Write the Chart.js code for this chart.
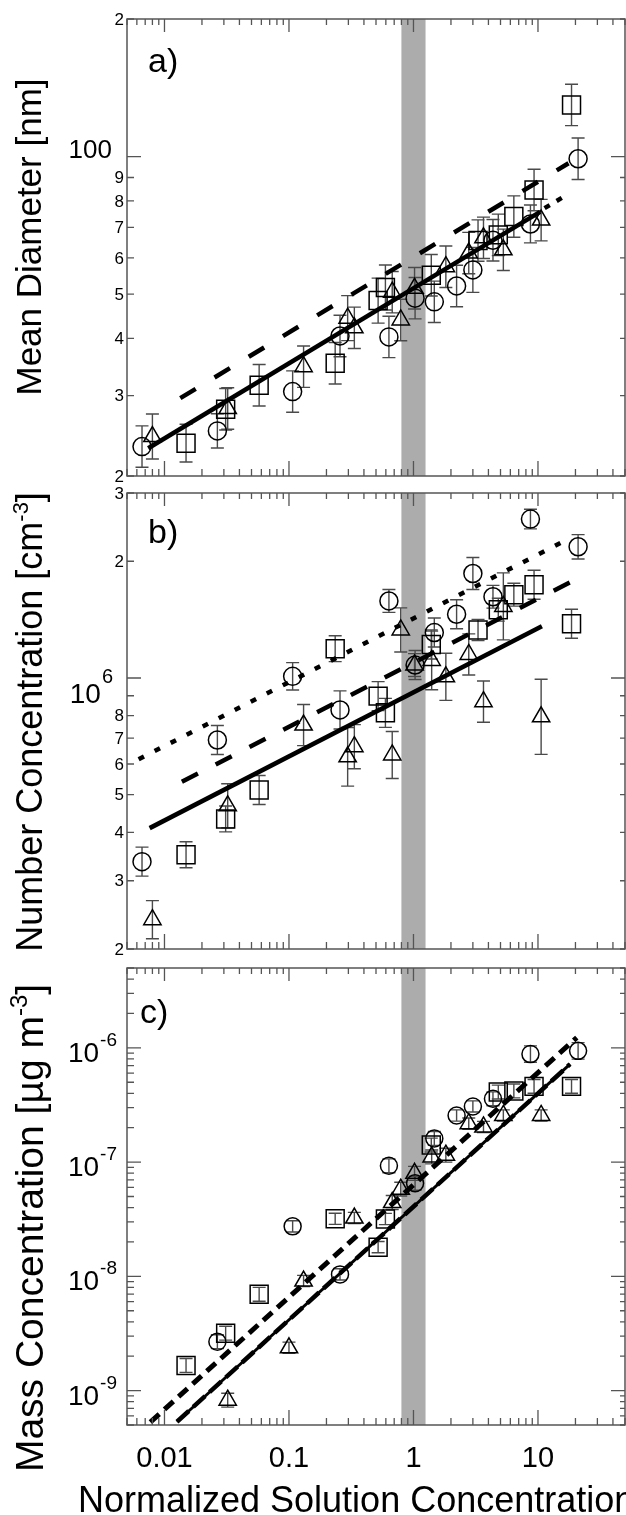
<!DOCTYPE html>
<html>
<head>
<meta charset="utf-8">
<script src="https://cdn.jsdelivr.net/npm/chart.js@4.4.1/dist/chart.umd.min.js"></script>
<style>
  body { margin: 0; background: #fff; }
  #wrap { position: relative; width: 626px; height: 1515px; overflow: hidden; }
  canvas { position: absolute; left: 0; }
</style>
</head>
<body>
<div id="wrap">
  <canvas id="panelA" width="626" height="490" style="top:0px"></canvas>
  <canvas id="panelB" width="626" height="476" style="top:484px"></canvas>
  <canvas id="panelC" width="626" height="555" style="top:960px"></canvas>
</div>
<script>
const FONT = '"Liberation Sans", Arial, Helvetica, sans-serif';

// shared x axis
const xRange = [0.005, 50];
const shadeRange = [0.8, 1.25];
const xTickVals = [0.01, 0.1, 1, 10];
const xTickText = ["0.01", "0.1", "1", "10"];

// x positions of the three sample sets (same in every panel)
const circleX   = [0.0066, 0.0266, 0.107, 0.257, 0.635, 1.03, 1.47, 2.22, 3.0, 4.35, 8.7, 21.0];
const squareX   = [0.0149, 0.031, 0.0576, 0.235, 0.52, 0.595, 1.39, 3.3, 4.8, 6.4, 9.3, 18.6];
const triangleX = [0.008, 0.0322, 0.1, 0.131, 0.296, 0.335, 0.675, 0.79, 1.02, 1.4, 1.82, 2.78, 3.65, 5.27, 10.6];

// a) mean diameter [nm]
const diamCircle      = [23.2, 25.1, 30.6, 40.5, 40.3, 49.0, 48.1, 52.1, 56.5, 65.6, 71.2, 98.9];
const diamCircleErr   = [1.11, 1.09, 1.11, 1.11, 1.11, 1.11, 1.11, 1.11, 1.12, 1.11, 1.10, 1.11];
const diamSquare      = [23.6, 28.0, 31.6, 35.3, 48.4, 51.7, 55.0, 65.5, 67.4, 73.9, 84.5, 129.7];
const diamSquareErr   = [1.10, 1.11, 1.11, 1.11, 1.12, 1.12, 1.11, 1.11, 1.11, 1.11, 1.11, 1.11];
const diamTriangle    = [24.4, 28.1, null, 34.7, 44.3, 42.2, 50.5, 43.9, 51.5, null, 57.4, 61.5, 66.4, 62.5, 72.6];
const diamTriangleErr = [1.12, 1.11, null, 1.11, 1.12, 1.11, 1.11, 1.11, 1.11, null, 1.11, 1.11, 1.11, 1.11, 1.11];
const diamFitX  = [0.0074, 10.4],  diamFitY  = [23.0, 75.7];
const diamDashX = [0.0134, 17.6],  diamDashY = [29.6, 96.7];
const diamDotX  = [11.3, 16.5],    diamDotY  = [77.1, 82.0];
const diamTickVals = [200, 100, 90, 80, 70, 60, 50, 40, 30, 20];
const diamTickText = ["2", "100", "9", "8", "7", "6", "5", "4", "3", "2"];

// b) number concentration [cm-3]
const numCircle      = [3.36e5, 6.92e5, 1.01e6, 8.27e5, 1.58e6, 1.08e6, 1.31e6, 1.46e6, 1.86e6, 1.62e6, 2.57e6, 2.18e6];
const numCircleErr   = [1.09, 1.09, 1.085, 1.12, 1.07, 1.09, 1.09, 1.09, 1.10, 1.07, 1.06, 1.075];
const numSquare      = [3.50e5, 4.33e5, 5.14e5, 1.19e6, 8.98e5, 8.13e5, 1.22e6, 1.33e6, 1.50e6, 1.64e6, 1.74e6, 1.38e6];
const numSquareErr   = [1.08, 1.08, 1.09, 1.08, 1.09, 1.09, 1.09, 1.065, 1.07, 1.07, 1.09, 1.09];
const numTriangle    = [2.38e5, 4.68e5, null, 7.56e5, 6.26e5, 6.65e5, 6.33e5, 1.33e6, 1.08e6, 1.11e6, 1.007e6, 1.15e6, 8.69e5, 1.53e6, 7.94e5];
const numTriangleErr = [1.12, 1.14, null, 1.13, 1.19, 1.14, 1.15, 1.14, 1.07, 1.19, 1.15, 1.13, 1.13, 1.22, 1.25];
const numFitX   = [0.0076, 10.75], numFitY   = [4.10e5, 1.36e6];
const numDashX  = [0.0138, 18.4],  numDashY  = [5.40e5, 1.77e6];
const numDotX   = [0.0062, 16.0],  numDotY   = [6.17e5, 2.25e6];
const numTickVals = [3e6, 2e6, 1e6, 8e5, 7e5, 6e5, 5e5, 4e5, 3e5, 2e5];
const numTickText = ["3", "2", "6", "8", "7", "6", "5", "4", "3", "2"];

// c) mass concentration [ug m-3]
const massCircle      = [null, 2.68e-9, 2.74e-8, 1.04e-8, 9.29e-8, 6.53e-8, 1.61e-7, 2.56e-7, 3.07e-7, 3.58e-7, 8.82e-7, 9.41e-7];
const massCircleErr   = [null, 1.15, 1.12, 1.12, 1.15, 1.15, 1.15, 1.12, 1.12, 1.15, 1.18, 1.18];
const massSquare      = [1.66e-9, 3.18e-9, 6.97e-9, 3.19e-8, 1.80e-8, 3.18e-8, 1.41e-7, null, 4.1e-7, 4.2e-7, 4.6e-7, 4.6e-7];
const massSquareErr   = [1.15, 1.15, 1.15, 1.12, 1.12, 1.12, 1.15, null, 1.15, 1.15, 1.15, 1.15];
const massTriangle    = [null, 8.24e-10, 2.37e-9, 9.1e-9, null, 3.24e-8, 4.43e-8, 5.8e-8, 7.98e-8, 1.11e-7, 1.15e-7, 2.17e-7, 2.03e-7, 2.56e-7, 2.56e-7];
const massTriangleErr = [null, 1.15, 1.12, 1.12, null, 1.12, 1.15, 1.15, 1.15, 1.15, 1.15, 1.12, 1.12, 1.12, 1.12];
const massFitX  = [0.0126, 18.1],  massFitY  = [5.34e-10, 7.2e-7];
const massDashX = [0.0077, 20.5],  massDashY = [5.3e-10, 1.23e-6];
const massTickVals = [1e-6, 1e-7, 1e-8, 1e-9];
const massTickText = ["-6", "-7", "-8", "-9"];

function pts(xs, ys) {
  return xs.map((x, i) => ({ x: x, y: ys[i] })).filter(p => p.y != null);
}

function markers(xs, ys, style, r) {
  return {
    data: pts(xs, ys), pointStyle: style, pointRadius: r, pointHoverRadius: r,
    pointBorderColor: "#000", pointBackgroundColor: "rgba(0,0,0,0)", pointBorderWidth: 1.5,
    borderColor: "#000", backgroundColor: "rgba(0,0,0,0)", order: 2
  };
}

function fitLine(xs, ys, dash, w) {
  return {
    data: pts(xs, ys), showLine: true, pointRadius: 0, pointHoverRadius: 0, clip: 0,
    borderColor: "#000", borderWidth: w, borderDash: dash, borderCapStyle: "butt", order: 1
  };
}

function errorBars(ctx, xs, ys, fs, sx, sy, cap) {
  xs.forEach((xv, i) => {
    if (ys[i] == null) return;
    const px = sx.getPixelForValue(xv);
    const top = sy.getPixelForValue(ys[i] * fs[i]);
    const bot = sy.getPixelForValue(ys[i] / fs[i]);
    ctx.beginPath();
    ctx.moveTo(px, top); ctx.lineTo(px, bot);
    ctx.moveTo(px - cap, top); ctx.lineTo(px + cap, top);
    ctx.moveTo(px - cap, bot); ctx.lineTo(px + cap, bot);
    ctx.stroke();
  });
}

function logTicks(lo, hi) {
  const out = [];
  for (let e = Math.floor(Math.log10(lo)); e <= Math.ceil(Math.log10(hi)); e++) {
    for (let m = 1; m <= 9; m++) {
      const v = m * Math.pow(10, e);
      if (v >= lo * 0.999 && v <= hi * 1.001) out.push({ v: v, major: m === 1 });
    }
  }
  return out;
}

function makePanel(id, cfg) {
  const deco = {
    id: "deco" + id,
    beforeDatasetsDraw(chart) {
      const { ctx, chartArea: a, scales: { x, y } } = chart;
      ctx.save();
      ctx.beginPath();
      ctx.rect(a.left, a.top, a.right - a.left, a.bottom - a.top);
      ctx.clip();
      const s0 = x.getPixelForValue(shadeRange[0]), s1 = x.getPixelForValue(shadeRange[1]);
      ctx.fillStyle = "#acacac";
      ctx.fillRect(s0, a.top, s1 - s0, a.bottom - a.top);
      ctx.strokeStyle = "#4a4a4a";
      ctx.lineWidth = 1.4;
      cfg.errors.forEach(e => errorBars(ctx, e[0], e[1], e[2], x, y, 6.5));
      ctx.restore();
    },
    afterDraw(chart) {
      const { ctx, chartArea: a, scales: { x, y } } = chart;
      const off = cfg.top;
      ctx.save();
      // frame
      ctx.strokeStyle = "#555";
      ctx.lineWidth = 1.5;
      ctx.strokeRect(a.left, a.top, a.right - a.left, a.bottom - a.top);
      // inward ticks
      ctx.lineWidth = 1.3;
      ctx.beginPath();
      logTicks(xRange[0], xRange[1]).forEach(t => {
        const px = x.getPixelForValue(t.v);
        const len = t.major ? 15 : 7;
        ctx.moveTo(px, a.bottom); ctx.lineTo(px, a.bottom - len);
        ctx.moveTo(px, a.top); ctx.lineTo(px, a.top + (t.major ? 13 : 6));
      });
      logTicks(cfg.yMin, cfg.yMax).forEach(t => {
        const py = y.getPixelForValue(t.v);
        ctx.moveTo(a.left, py); ctx.lineTo(a.left + (t.major ? 14 : 7), py);
        ctx.moveTo(a.right, py); ctx.lineTo(a.right - (t.major ? 14 : 5), py);
      });
      ctx.stroke();

      // y tick labels
      ctx.fillStyle = "#000";
      cfg.yLabels.forEach((v, i) => {
        const py = y.getPixelForValue(v);
        const txt = cfg.yText[i];
        const kind = cfg.yKind(v);
        if (kind === "pow") {
          const p = cfg.pow;
          ctx.font = p.supSize + "px " + FONT;
          ctx.textAlign = "right"; ctx.textBaseline = "alphabetic";
          const sw = ctx.measureText(txt).width;
          ctx.fillText(txt, p.supRight, py + p.supDy);
          ctx.font = p.baseSize + "px " + FONT;
          ctx.fillText("10", p.supRight - sw - 1, py + p.baseDy);
        } else if (kind === "big") {
          ctx.font = "26px " + FONT;
          ctx.textAlign = "right"; ctx.textBaseline = "alphabetic";
          ctx.fillText(txt, a.left - 15, py + 1);
        } else {
          ctx.font = "17px " + FONT;
          ctx.textAlign = "right"; ctx.textBaseline = "middle";
          ctx.fillText(txt, a.left - 3, py + 1);
        }
      });

      // panel letter
      ctx.font = "34px " + FONT;
      ctx.textAlign = "left"; ctx.textBaseline = "alphabetic";
      ctx.fillText(cfg.letter, cfg.letterX, cfg.letterY - off);

      // rotated y title
      const fs = cfg.titleSize, ss = Math.round(cfg.titleSize * 0.62);
      ctx.save();
      ctx.translate(cfg.titleX, cfg.titleY - off);
      ctx.rotate(-Math.PI / 2);
      let total = 0;
      cfg.title.forEach(p => {
        ctx.font = (p.sup ? ss : fs) + "px " + FONT;
        total += ctx.measureText(p.t).width;
      });
      let cur = -total / 2;
      ctx.textAlign = "left"; ctx.textBaseline = "alphabetic";
      cfg.title.forEach(p => {
        ctx.font = (p.sup ? ss : fs) + "px " + FONT;
        ctx.fillText(p.t, cur, p.sup ? -fs * 0.4 : 0);
        cur += ctx.measureText(p.t).width;
      });
      ctx.restore();

      // x tick labels and title (bottom panel only)
      if (cfg.xLabels) {
        ctx.font = "29px " + FONT;
        ctx.textAlign = "center"; ctx.textBaseline = "alphabetic";
        xTickVals.forEach((v, i) => ctx.fillText(xTickText[i], x.getPixelForValue(v), 1467 - off));
        ctx.font = "36px " + FONT;
        ctx.textAlign = "left";
        ctx.fillText("Normalized Solution Concentration", 78, 1512 - off);
      }
      ctx.restore();
    }
  };

  new Chart(document.getElementById(id), {
    type: "scatter",
    data: { datasets: cfg.datasets },
    options: {
      responsive: false,
      animation: false,
      events: [],
      layout: { padding: cfg.padding, autoPadding: false },
      plugins: { legend: { display: false }, tooltip: { enabled: false } },
      scales: {
        x: { type: "logarithmic", min: xRange[0], max: xRange[1], display: false },
        y: { type: "logarithmic", min: cfg.yMin, max: cfg.yMax, display: false }
      }
    },
    plugins: [deco]
  });
}

makePanel("panelA", {
  top: 0,
  padding: { left: 127, top: 19, right: 1, bottom: 14 },
  yMin: 20, yMax: 200,
  yLabels: diamTickVals, yText: diamTickText,
  yKind: v => (v === 100 ? "big" : "minor"),
  letter: "a)", letterX: 148, letterY: 72,
  titleX: 41, titleY: 237, titleSize: 35,
  title: [{ t: "Mean Diameter [nm]" }],
  errors: [
    [circleX, diamCircle, diamCircleErr],
    [squareX, diamSquare, diamSquareErr],
    [triangleX, diamTriangle, diamTriangleErr]
  ],
  datasets: [
    fitLine(diamFitX, diamFitY, [], 4.5),
    fitLine(diamDashX, diamDashY, [18, 22], 4.5),
    fitLine(diamDotX, diamDotY, [6, 8], 4.5),
    markers(circleX, diamCircle, "circle", 9),
    markers(squareX, diamSquare, "rect", 12.7),
    markers(triangleX, diamTriangle, "triangle", 10)
  ]
});

makePanel("panelB", {
  top: 484,
  padding: { left: 127, top: 9, right: 1, bottom: 11 },
  yMin: 2e5, yMax: 3e6,
  yLabels: numTickVals, yText: numTickText,
  yKind: v => (v === 1e6 ? "pow" : "minor"),
  pow: { baseSize: 28, supSize: 20, supRight: 113, supDy: 5, baseDy: 25 },
  letter: "b)", letterX: 148, letterY: 543,
  titleX: 42, titleY: 722, titleSize: 36,
  title: [{ t: "Number Concentration [cm" }, { t: "-3", sup: true }, { t: "]" }],
  errors: [
    [circleX, numCircle, numCircleErr],
    [squareX, numSquare, numSquareErr],
    [triangleX, numTriangle, numTriangleErr]
  ],
  datasets: [
    fitLine(numFitX, numFitY, [], 4.5),
    fitLine(numDashX, numDashY, [18, 20], 4.5),
    fitLine(numDotX, numDotY, [6, 12], 4.5),
    markers(circleX, numCircle, "circle", 9),
    markers(squareX, numSquare, "rect", 12.7),
    markers(triangleX, numTriangle, "triangle", 10)
  ]
});

makePanel("panelC", {
  top: 960,
  padding: { left: 127, top: 8, right: 1, bottom: 90 },
  yMin: 5e-10, yMax: 5e-6,
  yLabels: massTickVals, yText: massTickText,
  yKind: v => "pow",
  pow: { baseSize: 28, supSize: 19, supRight: 117, supDy: -2, baseDy: 14 },
  letter: "c)", letterX: 140, letterY: 1023,
  titleX: 43, titleY: 1228, titleSize: 39,
  title: [{ t: "Mass Concentration [\u00b5g m" }, { t: "-3", sup: true }, { t: "]" }],
  errors: [
    [circleX, massCircle, massCircleErr],
    [squareX, massSquare, massSquareErr],
    [triangleX, massTriangle, massTriangleErr]
  ],
  xLabels: true,
  datasets: [
    fitLine(massFitX, massFitY, [], 3),
    fitLine(massFitX, massFitY, [16, 6], 4.5),
    fitLine(massDashX, massDashY, [12, 7], 5),
    markers(circleX, massCircle, "circle", 8.5),
    markers(squareX, massSquare, "rect", 12.7),
    markers(triangleX, massTriangle, "triangle", 10)
  ]
});
</script>
</body>
</html>
